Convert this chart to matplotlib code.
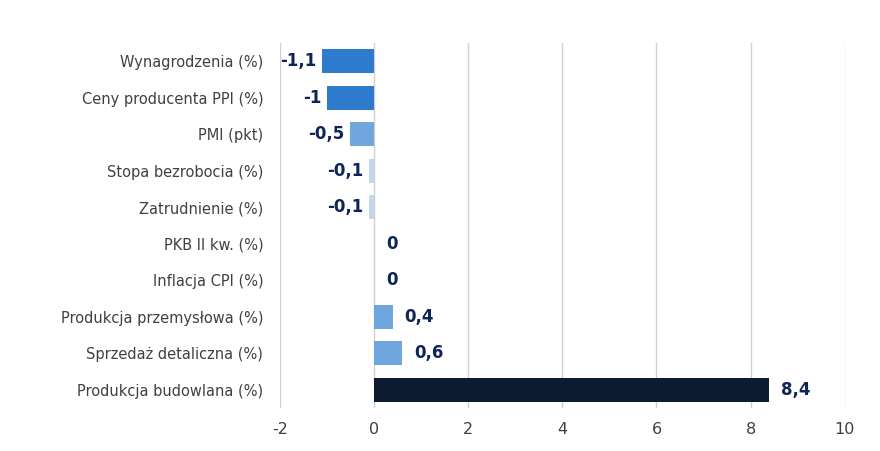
import matplotlib.pyplot as plt
plt.rcParams['axes.unicode_minus'] = False

categories = ["Wynagrodzenia (%)", "Ceny producenta PPI (%)", "PMI (pkt)", "Stopa bezrobocia (%)",
              "Zatrudnienie (%)", "PKB II kw. (%)", "Inflacja CPI (%)", "Produkcja przemysłowa (%)",
              "Sprzedaż detaliczna (%)", "Produkcja budowlana (%)"]
values = [-1.1, -1, -0.5, -0.1, -0.1, 0, 0, 0.4, 0.6, 8.4]
labels = ["-1,1", "-1", "-0,5", "-0,1", "-0,1", "0", "0", "0,4", "0,6", "8,4"]
colors = ["#2E7ACD", "#2E7ACD", "#6FA6DE", "#C3D8F0", "#C3D8F0", "#6FA6DE", "#6FA6DE",
          "#6FA6DE", "#6FA6DE", "#0B1C30"]

fig = plt.figure(figsize=(8.8, 4.51), dpi=100)
ax = fig.add_axes([0.318, 0.095, 0.642, 0.81])
y = list(range(len(categories)))
ax.barh(y, values, color=colors, height=0.65, zorder=3)
ax.set_ylim(len(categories) - 0.5, -0.5)
ax.set_xlim(-2, 10)
ax.set_xticks(range(-2, 11, 2))
ax.set_yticks(y)
ax.set_yticklabels(categories)
ax.tick_params(axis='both', length=0, labelsize=10.5, colors="#404040")
ax.tick_params(axis='y', pad=12)
ax.tick_params(axis='x', pad=10, labelsize=11.5)
ax.grid(axis='x', color="#D0D0D0", linewidth=1, zorder=0)
for s in ax.spines.values():
    s.set_visible(False)
for yi, v, lab in zip(y, values, labels):
    if v < 0:
        ax.text(v - 0.12, yi, lab, ha='right', va='center', fontsize=12, fontweight='bold', color="#0D2657")
    else:
        ax.text(v + 0.25, yi, lab, ha='left', va='center', fontsize=12, fontweight='bold', color="#0D2657")
fig.savefig("out.png", dpi=100)
